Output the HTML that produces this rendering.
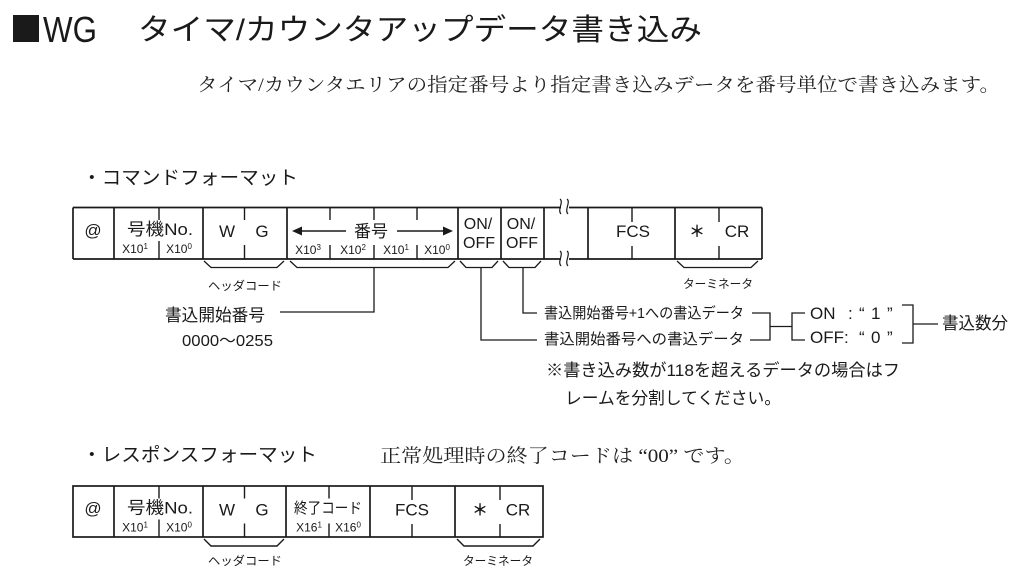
<!DOCTYPE html>
<html><head><meta charset="utf-8"><style>
html,body{margin:0;padding:0;background:#fff;}
svg{display:block;}
.s{font-family:"Liberation Sans","Noto Sans CJK JP",sans-serif;fill:#1a1a1a;}
.m{font-family:"Liberation Serif","Noto Serif CJK SC",serif;fill:#222;}
</style></head><body>
<svg width="1024" height="582" viewBox="0 0 1024 582" xmlns="http://www.w3.org/2000/svg">
<rect width="1024" height="582" fill="#fff"/>
<!-- Heading -->
<rect x="13" y="15" width="26" height="27" fill="#1a1a1a"/>
<text class="s" x="43" y="42" font-size="36" textLength="54" lengthAdjust="spacingAndGlyphs">WG</text>
<text class="s" x="138" y="40" font-size="30" textLength="564" lengthAdjust="spacingAndGlyphs">タイマ/カウンタアップデータ書き込み</text>
<text class="m" x="197" y="91" font-size="19" textLength="803" lengthAdjust="spacingAndGlyphs">タイマ/カウンタエリアの指定番号より指定書き込みデータを番号単位で書き込みます。</text>

<!-- Command title -->
<text class="s" x="82" y="184" font-size="19" textLength="216" lengthAdjust="spacingAndGlyphs">・コマンドフォーマット</text>

<g stroke="#1a1a1a" stroke-width="1.7" fill="none">
  <line x1="73" y1="207.5" x2="762" y2="207.5"/>
  <line x1="73" y1="259" x2="762" y2="259"/>
  <line x1="73" y1="207.5" x2="73" y2="259"/>
  <line x1="114" y1="207.5" x2="114" y2="259"/>
  <line x1="203" y1="207.5" x2="203" y2="259"/>
  <line x1="287" y1="207.5" x2="287" y2="259"/>
  <line x1="458" y1="207.5" x2="458" y2="259"/>
  <line x1="501" y1="207.5" x2="501" y2="259"/>
  <line x1="544" y1="207.5" x2="544" y2="259"/>
  <line x1="588" y1="207.5" x2="588" y2="259"/>
  <line x1="675" y1="207.5" x2="675" y2="259"/>
  <line x1="762" y1="207.5" x2="762" y2="259"/>
</g>
<g stroke="#1a1a1a" stroke-width="1.4" fill="none">
  <line x1="159" y1="207.5" x2="159" y2="220"/><line x1="159" y1="241" x2="159" y2="259"/>
  <line x1="244.5" y1="207.5" x2="244.5" y2="220"/><line x1="244.5" y1="245" x2="244.5" y2="259"/>
  <line x1="330" y1="207.5" x2="330" y2="220"/><line x1="330" y1="245" x2="330" y2="259"/>
  <line x1="374" y1="207.5" x2="374" y2="220"/><line x1="374" y1="245" x2="374" y2="259"/>
  <line x1="417" y1="207.5" x2="417" y2="220"/><line x1="417" y1="245" x2="417" y2="259"/>
  <line x1="632" y1="207.5" x2="632" y2="222"/><line x1="632" y1="246" x2="632" y2="259"/>
  <line x1="719" y1="207.5" x2="719" y2="222"/><line x1="719" y1="246" x2="719" y2="259"/>
</g>
<!-- break squiggles -->
<rect x="561" y="203" width="8" height="9" fill="#fff"/>
<rect x="561" y="254" width="8" height="9" fill="#fff"/>
<g stroke="#1a1a1a" stroke-width="1.2" fill="none">
  <path d="M560,199 C564,202 557,210 561,214"/>
  <path d="M567,199 C571,202 564,210 568,214"/>
  <path d="M560,251 C564,254 557,262 561,266"/>
  <path d="M567,251 C571,254 564,262 568,266"/>
</g>

<!-- command cell text -->
<text class="s" x="93" y="236" font-size="17" text-anchor="middle">@</text>
<text class="s" x="127" y="235" font-size="17" textLength="66" lengthAdjust="spacingAndGlyphs">号機No.</text>
<text class="s" x="135" y="253" font-size="12" text-anchor="middle" fill="#333">X10<tspan font-size="8" dy="-4">1</tspan></text>
<text class="s" x="179" y="253" font-size="12" text-anchor="middle" fill="#333">X10<tspan font-size="8" dy="-4">0</tspan></text>
<text class="s" x="227" y="237" font-size="17" text-anchor="middle">W</text>
<text class="s" x="262" y="237" font-size="17" text-anchor="middle">G</text>
<!-- 番号 arrow -->
<polygon points="292,231 302,226.5 302,235.5" fill="#1a1a1a"/>
<line x1="301" y1="231" x2="346" y2="231" stroke="#1a1a1a" stroke-width="1.5"/>
<text class="s" x="371" y="237" font-size="17" text-anchor="middle">番号</text>
<line x1="397" y1="231" x2="444" y2="231" stroke="#1a1a1a" stroke-width="1.5"/>
<polygon points="453,231 443,226.5 443,235.5" fill="#1a1a1a"/>
<text class="s" x="308" y="254" font-size="12" text-anchor="middle" fill="#333">X10<tspan font-size="8" dy="-4">3</tspan></text>
<text class="s" x="353" y="254" font-size="12" text-anchor="middle" fill="#333">X10<tspan font-size="8" dy="-4">2</tspan></text>
<text class="s" x="396" y="254" font-size="12" text-anchor="middle" fill="#333">X10<tspan font-size="8" dy="-4">1</tspan></text>
<text class="s" x="437" y="254" font-size="12" text-anchor="middle" fill="#333">X10<tspan font-size="8" dy="-4">0</tspan></text>
<text class="s" x="478" y="229" font-size="16" text-anchor="middle">ON/</text>
<text class="s" x="479" y="248" font-size="16" text-anchor="middle">OFF</text>
<text class="s" x="521" y="229" font-size="16" text-anchor="middle">ON/</text>
<text class="s" x="522" y="248" font-size="16" text-anchor="middle">OFF</text>
<text class="s" x="633" y="237" font-size="17" text-anchor="middle">FCS</text>
<text class="s" x="697" y="237" font-size="16" font-weight="bold" text-anchor="middle">＊</text>
<text class="s" x="737" y="237" font-size="17" text-anchor="middle">CR</text>

<!-- braces command -->
<g stroke="#1a1a1a" stroke-width="1.3" fill="none">
  <path d="M204,261 L211,267.5 L277,267.5 L284,261"/>
  <path d="M290,261 L297,267.5 L448,267.5 L455,261"/>
  <path d="M460,261 L466,267.5 L492,267.5 L498,261"/>
  <path d="M503,261 L509,267.5 L535,267.5 L541,261"/>
  <path d="M677,261 L684,267.5 L751,267.5 L758,261"/>
  <path d="M374,267.5 V312 H280"/>
  <path d="M481,267.5 V340 H537"/>
  <path d="M523,267.5 V313 H537"/>
  <path d="M752,313 H770 V340 H750"/>
  <path d="M770,326.5 H792"/>
  <path d="M805,313 H792 V340 H805"/>
  <path d="M902,305 H913 V343 H902"/>
  <path d="M913,324 H938"/>
</g>
<text class="s" x="208" y="290" font-size="12" textLength="74" lengthAdjust="spacingAndGlyphs" fill="#333">ヘッダコード</text>
<text class="s" x="683" y="288" font-size="12" textLength="70" lengthAdjust="spacingAndGlyphs" fill="#333">ターミネータ</text>
<text class="s" x="165" y="321" font-size="17" textLength="100" lengthAdjust="spacingAndGlyphs">書込開始番号</text>
<text class="s" x="182" y="346" font-size="16" textLength="91" lengthAdjust="spacingAndGlyphs">0000～0255</text>

<text class="s" x="544" y="318" font-size="15" textLength="200" lengthAdjust="spacingAndGlyphs">書込開始番号+1への書込データ</text>
<text class="s" x="544" y="344" font-size="15" textLength="200" lengthAdjust="spacingAndGlyphs">書込開始番号への書込データ</text>

<text class="s" x="810" y="319" font-size="17">ON</text>
<text class="s" x="848" y="319" font-size="17">:</text>
<text class="s" x="859" y="319" font-size="17">“</text>
<text class="s" x="871" y="319" font-size="17">1</text>
<text class="s" x="887" y="319" font-size="17">”</text>
<text class="s" x="810" y="343" font-size="17">OFF:</text>
<text class="s" x="859" y="343" font-size="17">“</text>
<text class="s" x="871" y="343" font-size="17">0</text>
<text class="s" x="887" y="343" font-size="17">”</text>
<text class="s" x="942" y="329" font-size="17" textLength="66" lengthAdjust="spacingAndGlyphs">書込数分</text>

<text class="s" x="546" y="376" font-size="17" textLength="354" lengthAdjust="spacingAndGlyphs">※書き込み数が118を超えるデータの場合はフ</text>
<text class="s" x="565" y="404" font-size="17" textLength="216" lengthAdjust="spacingAndGlyphs">レームを分割してください。</text>

<!-- Response -->
<text class="s" x="82" y="461" font-size="19" textLength="235" lengthAdjust="spacingAndGlyphs">・レスポンスフォーマット</text>
<text class="m" x="380" y="462" font-size="19" textLength="365" lengthAdjust="spacingAndGlyphs">正常処理時の終了コードは “00” です。</text>

<g stroke="#1a1a1a" stroke-width="1.7" fill="none">
  <rect x="73" y="486" width="470" height="51"/>
  <line x1="114" y1="486" x2="114" y2="537"/>
  <line x1="203" y1="486" x2="203" y2="537"/>
  <line x1="286" y1="486" x2="286" y2="537"/>
  <line x1="370" y1="486" x2="370" y2="537"/>
  <line x1="455" y1="486" x2="455" y2="537"/>
</g>
<g stroke="#1a1a1a" stroke-width="1.4" fill="none">
  <line x1="159" y1="486" x2="159" y2="498.5"/><line x1="159" y1="519.5" x2="159" y2="537"/>
  <line x1="244.5" y1="486" x2="244.5" y2="498.5"/><line x1="244.5" y1="523.5" x2="244.5" y2="537"/>
  <line x1="329" y1="486" x2="329" y2="498.5"/><line x1="329" y1="523.5" x2="329" y2="537"/>
  <line x1="412" y1="486" x2="412" y2="500"/><line x1="412" y1="524" x2="412" y2="537"/>
  <line x1="500" y1="486" x2="500" y2="500"/><line x1="500" y1="524" x2="500" y2="537"/>
  <path d="M204,539 L211,546 L277,546 L284,539"/>
  <path d="M457,539 L464,546 L533,546 L540,539"/>
</g>
<text class="s" x="93" y="514" font-size="17" text-anchor="middle">@</text>
<text class="s" x="127" y="513.5" font-size="17" textLength="66" lengthAdjust="spacingAndGlyphs">号機No.</text>
<text class="s" x="135" y="531.5" font-size="12" text-anchor="middle" fill="#333">X10<tspan font-size="8" dy="-4">1</tspan></text>
<text class="s" x="179" y="531.5" font-size="12" text-anchor="middle" fill="#333">X10<tspan font-size="8" dy="-4">0</tspan></text>
<text class="s" x="227" y="515.5" font-size="17" text-anchor="middle">W</text>
<text class="s" x="262" y="515.5" font-size="17" text-anchor="middle">G</text>
<text class="s" x="294" y="513" font-size="15" textLength="68" lengthAdjust="spacingAndGlyphs" fill="#333">終了コード</text>
<text class="s" x="309" y="531.5" font-size="12" text-anchor="middle" fill="#333">X16<tspan font-size="8" dy="-4">1</tspan></text>
<text class="s" x="348" y="531.5" font-size="12" text-anchor="middle" fill="#333">X16<tspan font-size="8" dy="-4">0</tspan></text>
<text class="s" x="412" y="515.5" font-size="17" text-anchor="middle">FCS</text>
<text class="s" x="480" y="515.5" font-size="16" font-weight="bold" text-anchor="middle">＊</text>
<text class="s" x="518" y="515.5" font-size="17" text-anchor="middle">CR</text>
<text class="s" x="208" y="565" font-size="12" textLength="74" lengthAdjust="spacingAndGlyphs" fill="#333">ヘッダコード</text>
<text class="s" x="463" y="565" font-size="12" textLength="70" lengthAdjust="spacingAndGlyphs" fill="#333">ターミネータ</text>
</svg>
</body></html>
